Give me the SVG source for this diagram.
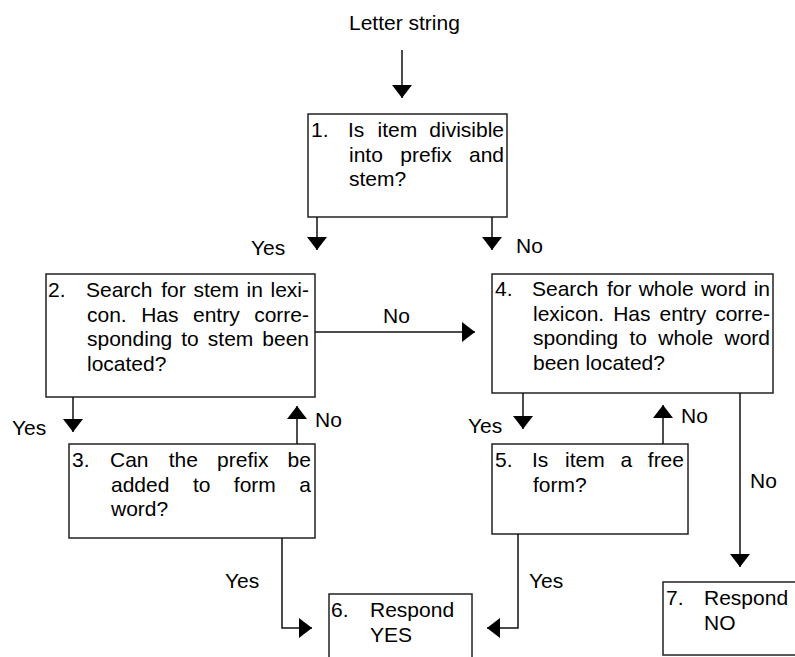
<svg xmlns="http://www.w3.org/2000/svg" width="795" height="657" viewBox="0 0 795 657">
  <style>
    text { font-family: "Liberation Sans", Arial, sans-serif; font-size: 21px; fill: #000; }
    .box { fill: #fff; stroke: #222; stroke-width: 1.5; }
    .edge { fill: none; stroke: #111; stroke-width: 1.5; }
  </style>
  <defs>
    <marker id="arrow" viewBox="0 0 13 20" refX="13" refY="10" markerWidth="13" markerHeight="20" markerUnits="userSpaceOnUse" orient="auto">
      <path d="M0,0 L13,10 L0,20 Z" fill="#000"/>
    </marker>
  </defs>

  <rect width="795" height="657" fill="#fff"/>

  <g id="input">
    <text x="349" y="30">Letter string</text>
  </g>

  <!-- 1: prefix test -->
  <g id="node1">
    <rect class="box" x="308" y="114" width="199" height="103"/>
    <text x="311" y="137">1.</text>
    <text y="137"><tspan x="348">Is</tspan><tspan x="377.5">item</tspan><tspan x="429.3">divisible</tspan></text>
    <text y="161.5"><tspan x="349">into</tspan><tspan x="400.3">prefix</tspan><tspan x="469">and</tspan></text>
    <text x="349" y="186">stem?</text>
  </g>

  <!-- 2: stem lookup -->
  <g id="node2">
    <rect class="box" x="46" y="274" width="269" height="123"/>
    <text x="48" y="297">2.</text>
    <text y="297"><tspan x="86">Search</tspan><tspan x="161.2">for</tspan><tspan x="193.4">stem</tspan><tspan x="246.5">in</tspan><tspan x="270.5">lexi-</tspan></text>
    <text y="321.5"><tspan x="87">con.</tspan><tspan x="141.2">Has</tspan><tspan x="193">entry</tspan><tspan x="254.2">corre-</tspan></text>
    <text y="346"><tspan x="87">sponding</tspan><tspan x="181.2">to</tspan><tspan x="207.8">stem</tspan><tspan x="262.3">been</tspan></text>
    <text x="87" y="370.5">located?</text>
  </g>

  <!-- 3: prefix + stem check -->
  <g id="node3">
    <rect class="box" x="69" y="444" width="246" height="94"/>
    <text x="72" y="467">3.</text>
    <text y="467"><tspan x="110">Can</tspan><tspan x="168.7">the</tspan><tspan x="217.1">prefix</tspan><tspan x="287.6">be</tspan></text>
    <text y="491.5"><tspan x="111">added</tspan><tspan x="192.9">to</tspan><tspan x="233.8">form</tspan><tspan x="299.3">a</tspan></text>
    <text x="111" y="516">word?</text>
  </g>

  <!-- 4: whole-word lookup -->
  <g id="node4">
    <rect class="box" x="492" y="274" width="281" height="119"/>
    <text x="495" y="296">4.</text>
    <text y="296"><tspan x="532">Search</tspan><tspan x="606.9">for</tspan><tspan x="638.7">whole</tspan><tspan x="700.9">word</tspan><tspan x="753.7">in</tspan></text>
    <text y="320.5"><tspan x="533">lexicon.</tspan><tspan x="613.2">Has</tspan><tspan x="659.5">entry</tspan><tspan x="715.2">corre-</tspan></text>
    <text y="345"><tspan x="533">sponding</tspan><tspan x="629.5">to</tspan><tspan x="658.3">whole</tspan><tspan x="724.5">word</tspan></text>
    <text x="533" y="369.5">been located?</text>
  </g>

  <!-- 5: free form check -->
  <g id="node5">
    <rect class="box" x="492" y="444" width="196" height="90"/>
    <text x="495" y="467">5.</text>
    <text y="467"><tspan x="532">Is</tspan><tspan x="565">item</tspan><tspan x="620.4">a</tspan><tspan x="647.8">free</tspan></text>
    <text x="533" y="491.5">form?</text>
  </g>

  <!-- 6: yes response -->
  <g id="node6">
    <rect class="box" x="329" y="594" width="143" height="80"/>
    <text x="331" y="617">6.</text>
    <text x="370" y="617">Respond</text>
    <text x="370" y="641.5">YES</text>
  </g>

  <!-- 7: no response -->
  <g id="node7">
    <rect class="box" x="663" y="582" width="160" height="73"/>
    <text x="666" y="605">7.</text>
    <text x="704" y="605">Respond</text>
    <text x="704" y="629.5">NO</text>
  </g>

  <g id="connectors">
    <line class="edge" x1="402" y1="50" x2="402" y2="98" marker-end="url(#arrow)"/>
    <line class="edge" x1="317" y1="217" x2="317" y2="250" marker-end="url(#arrow)"/>
    <line class="edge" x1="492" y1="217" x2="492" y2="250" marker-end="url(#arrow)"/>
    <line class="edge" x1="315" y1="332" x2="475" y2="332" marker-end="url(#arrow)"/>
    <line class="edge" x1="73" y1="397" x2="73" y2="432" marker-end="url(#arrow)"/>
    <line class="edge" x1="297" y1="444" x2="297" y2="406" marker-end="url(#arrow)"/>
    <polyline class="edge" points="282,538 282,628 312,628" marker-end="url(#arrow)"/>
    <line class="edge" x1="523" y1="393" x2="523" y2="429" marker-end="url(#arrow)"/>
    <line class="edge" x1="663" y1="444" x2="663" y2="405" marker-end="url(#arrow)"/>
    <polyline class="edge" points="518,534 518,628 487,628" marker-end="url(#arrow)"/>
    <line class="edge" x1="740" y1="393" x2="740" y2="567" marker-end="url(#arrow)"/>

    <text x="251" y="255">Yes</text>
    <text x="516" y="253">No</text>
    <text x="383" y="323">No</text>
    <text x="12" y="435">Yes</text>
    <text x="315" y="427">No</text>
    <text x="468" y="433">Yes</text>
    <text x="681" y="423">No</text>
    <text x="750" y="488">No</text>
    <text x="225" y="588">Yes</text>
    <text x="529" y="588">Yes</text>
  </g>
</svg>
